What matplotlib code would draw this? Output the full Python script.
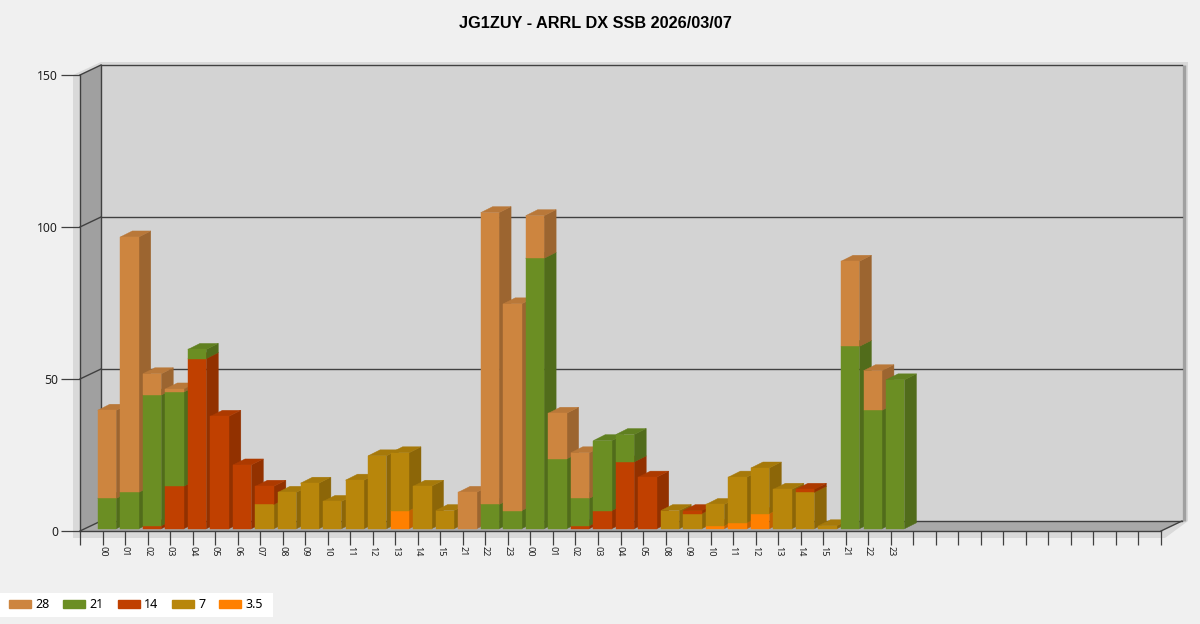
import matplotlib
matplotlib.use('Agg')
import matplotlib.pyplot as plt
from matplotlib.patches import Polygon, Patch, Rectangle
import numpy as np

# ---------------- data ----------------
title = "JG1ZUY - ARRL DX SSB 2026/03/07"
categories = ['00', '01', '02', '03', '04', '05', '06', '07', '08', '09', '10', '11',
              '12', '13', '14', '15', '21', '22', '23',
              '00', '01', '02', '03', '04', '05', '08', '09', '10', '11', '12', '13',
              '14', '15', '21', '22', '23']
band_35 = [0, 0, 0, 0, 0, 0, 0, 0, 0, 0, 0, 0, 0, 6, 0, 0, 0, 0, 0,
           0, 0, 0, 0, 0, 0, 0, 0, 1, 2, 5, 0, 0, 0, 0, 0, 0]
band_7 = [0, 0, 0, 0, 0, 0, 0, 8, 12, 15, 9, 16, 24, 19, 14, 6, 0, 0, 0,
          0, 0, 0, 0, 0, 0, 6, 5, 7, 15, 15, 13, 12, 1, 0, 0, 0]
band_14 = [0, 0, 1, 14, 56, 37, 21, 6, 0, 0, 0, 0, 0, 0, 0, 0, 0, 0, 0,
           0, 0, 1, 6, 22, 17, 0, 1, 0, 0, 0, 0, 1, 0, 0, 0, 0]
band_21 = [10, 12, 43, 31, 3, 0, 0, 0, 0, 0, 0, 0, 0, 0, 0, 0, 0, 8, 6,
           89, 23, 9, 23, 9, 0, 0, 0, 0, 0, 0, 0, 0, 0, 60, 39, 49]
band_28 = [29, 84, 7, 1, 0, 0, 0, 0, 0, 0, 0, 0, 0, 0, 0, 0, 12, 96, 68,
           14, 15, 15, 0, 0, 0, 0, 0, 0, 0, 0, 0, 0, 0, 28, 13, 0]
y_ticks = [0, 50, 100, 150]
n_slots = 48

# stacking order bottom -> top
series = [('3.5', band_35, '#FF8000'),
          ('7', band_7, '#B8860B'),
          ('14', band_14, '#C04000'),
          ('21', band_21, '#6B8E23'),
          ('28', band_28, '#CD853F')]
legend_order = ['28', '21', '14', '7', '3.5']

# ---------------- layout (pixels) ----------------
FW, FH = 1200, 624
AX_L, AX_R, AX_B, AX_T = 80, 1161, 531, 75
fig = plt.figure(figsize=(FW / 100, FH / 100), dpi=100, facecolor='#F0F0F0')
ax = fig.add_axes([AX_L / FW, (FH - AX_B) / FH, (AX_R - AX_L) / FW, (AX_B - AX_T) / FH])
ax.set_xlim(0, n_slots)
ax.set_ylim(0, 150)
ax.set_facecolor('none')
for s in ax.spines.values():
    s.set_visible(False)

ux = (AX_R - AX_L) / n_slots
uy = (AX_B - AX_T) / 150.0
WX, WY = 21 / ux, 10 / uy          # wall depth
SX, SY = 4.5 / ux, 2.2 / uy        # bar front shift into depth
BDX, BDY = 12 / ux, 6 / uy         # bar depth
HALF = 9.2 / ux                    # half bar width

grid_c = '#404040'
X0, X1, Y0, Y1 = 0, n_slots, 0, 150

# halo / shadow around the box
halo = Polygon([(X0 - 7 / ux, Y0 - 7 / uy), (X0 - 7 / ux, Y1), (X0 + WX, Y1 + WY + 3 / uy),
                (X1 + WX + 6 / ux, Y1 + WY + 3 / uy), (X1 + WX + 6 / ux, Y0 + WY),
                (X1 + 4 / ux, Y0 - 7 / uy)],
               closed=True, facecolor='#D9D9D9', edgecolor='none', zorder=0.1, clip_on=False)
ax.add_patch(halo)
# back wall
ax.add_patch(Rectangle((X0 + WX, Y0 + WY), X1 - X0, Y1 - Y0, facecolor='#D3D3D3',
                       edgecolor='none', zorder=0.3, clip_on=False))
ax.plot([X1 + WX + 1.5 / ux] * 2, [Y0 + WY, Y1 + WY], color='#A0A0A0', lw=2.5,
        zorder=0.35, clip_on=False, solid_capstyle='butt')
# left wall
ax.add_patch(Polygon([(X0, Y0), (X0 + WX, Y0 + WY), (X0 + WX, Y1 + WY), (X0, Y1)], closed=True,
                     facecolor='#A0A0A0', edgecolor='none', zorder=0.3, clip_on=False))
# floor
ax.add_patch(Polygon([(X0, Y0), (X1, Y0), (X1 + WX, Y0 + WY), (X0 + WX, Y0 + WY)], closed=True,
                     facecolor='#A9A9A9', edgecolor='none', zorder=0.3, clip_on=False))

# grid lines
lw = 1.0
for v in y_ticks:
    ax.plot([X0 + WX, X1 + WX], [v + WY, v + WY], color=grid_c, lw=lw, zorder=0.5, clip_on=False)
    ax.plot([X0, X0 + WX], [v, v + WY], color=grid_c, lw=lw, zorder=0.5, clip_on=False)
ax.plot([X0, X0], [Y0, Y1], color=grid_c, lw=lw, zorder=0.5, clip_on=False)
ax.plot([X0 + WX, X0 + WX], [Y0 + WY, Y1 + WY], color=grid_c, lw=lw, zorder=0.5, clip_on=False)
ax.plot([X0, X1], [Y0, Y0], color=grid_c, lw=lw, zorder=0.5, clip_on=False)
ax.plot([X1, X1 + WX], [Y0, Y0 + WY], color=grid_c, lw=lw, zorder=0.5, clip_on=False)


def shade(c, f):
    r, g, b = matplotlib.colors.to_rgb(c)
    return (r * f, g * f, b * f)


# bars
xs = np.arange(1, len(categories) + 1)
bottom = np.zeros(len(categories))
for j, (name, vals, col) in enumerate(series):
    vals = np.array(vals, dtype=float)
    bars = ax.bar(xs + SX, vals, width=2 * HALF, bottom=bottom + SY, color=col,
                  edgecolor=col, linewidth=0.3, clip_on=False)
    side_c = shade(col, 0.76)
    top_c = shade(col, 0.90)
    for i, (rect, v) in enumerate(zip(bars, vals)):
        zb = 2 + i * 0.1 + j * 0.01
        rect.set_zorder(zb + 0.005)
        if v <= 0:
            rect.set_visible(False)
            continue
        xl = xs[i] + SX - HALF
        xr = xs[i] + SX + HALF
        y0 = bottom[i] + SY
        y1 = y0 + v
        ax.add_patch(Polygon([(xr, y0), (xr + BDX, y0 + BDY), (xr + BDX, y1 + BDY), (xr, y1)],
                             closed=True, facecolor=side_c, edgecolor=side_c, lw=0.3,
                             zorder=zb, clip_on=False))
        ax.add_patch(Polygon([(xl, y1), (xl + BDX, y1 + BDY), (xr + BDX, y1 + BDY), (xr, y1)],
                             closed=True, facecolor=top_c, edgecolor=top_c, lw=0.3,
                             zorder=zb, clip_on=False))
    bottom += vals

# ticks
tick_font = 'Noto Sans'
ax.set_yticks(y_ticks)
ax.set_yticklabels([str(v) for v in y_ticks], fontsize=8.8, color='#202020', family=tick_font)
ax.tick_params(axis='y', length=19 * 0.72, width=0.9, color=grid_c, pad=2)
ax.set_xticks(np.arange(0, n_slots + 1))
xlabels = [''] + categories + [''] * (n_slots - len(categories))
ax.set_xticklabels(xlabels, rotation=-90, fontsize=6.5, color='#202020', family=tick_font)
ax.tick_params(axis='x', length=14 * 0.72, width=0.9, color=grid_c, pad=1)

# title
fig.text(595 / FW, 1 - 24 / FH, title, ha='center', va='center', fontsize=11.7,
         fontweight='bold', family='Liberation Sans', color='#000000')

# legend
fig.patches.append(Rectangle((0, 1 - 617 / FH), 273 / FW, 24 / FH, transform=fig.transFigure,
                             facecolor='white', edgecolor='none', zorder=0))
col_map = {n: c for n, _, c in series}
handles = [Patch(facecolor=col_map[n], edgecolor=col_map[n]) for n in legend_order]
fig.legend(handles, legend_order, ncol=5, loc='center left',
           bbox_to_anchor=(9 / FW, 1 - 605 / FH), frameon=False, borderpad=0, borderaxespad=0,
           handlelength=1.76, handleheight=0.64, handletextpad=0.35, columnspacing=1.1,
           prop={'family': tick_font, 'size': 9})

fig.savefig('out.png', dpi=100, facecolor=fig.get_facecolor())
